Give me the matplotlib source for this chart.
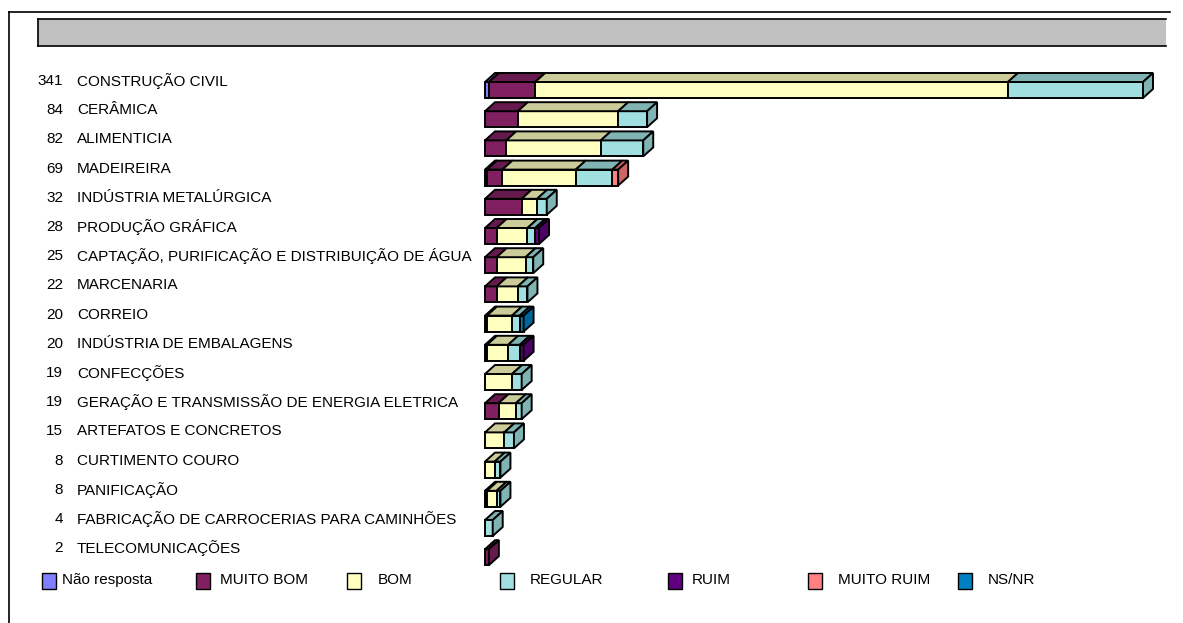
import numpy as np
import matplotlib
matplotlib.use("Agg")
import matplotlib.pyplot as plt
from matplotlib.patches import Polygon, Rectangle
from matplotlib.transforms import blended_transform_factory
from matplotlib.colors import to_rgb

plt.rcParams['font.family'] = ['Liberation Sans', 'DejaVu Sans']

categories = ['CONSTRUÇÃO CIVIL', 'CERÂMICA', 'ALIMENTICIA', 'MADEIREIRA',
              'INDÚSTRIA METALÚRGICA', 'PRODUÇÃO GRÁFICA',
              'CAPTAÇÃO, PURIFICAÇÃO E DISTRIBUIÇÃO DE ÁGUA', 'MARCENARIA',
              'CORREIO', 'INDÚSTRIA DE EMBALAGENS', 'CONFECÇÕES',
              'GERAÇÃO E TRANSMISSÃO DE ENERGIA ELETRICA',
              'ARTEFATOS E CONCRETOS', 'CURTIMENTO COURO', 'PANIFICAÇÃO',
              'FABRICAÇÃO DE CARROCERIAS PARA CAMINHÕES', 'TELECOMUNICAÇÕES']

series_names = ['Não resposta', 'MUITO BOM', 'BOM', 'REGULAR', 'RUIM',
                'MUITO RUIM', 'NS/NR']
nao_resposta = [2, 0, 0, 1, 0, 0, 0, 0, 0, 0, 0, 0, 0, 0, 0, 0, 0]
muito_bom = [24, 17, 11, 8, 19, 6, 6, 6, 1, 1, 0, 7, 0, 0, 1, 0, 2]
bom = [245, 52, 49, 38, 8, 16, 15, 11, 13, 11, 14, 9, 10, 5, 5, 0, 0]
regular = [70, 15, 22, 19, 5, 4, 4, 5, 4, 6, 5, 3, 5, 3, 2, 4, 0]
ruim = [0, 0, 0, 0, 0, 2, 0, 0, 0, 2, 0, 0, 0, 0, 0, 0, 0]
muito_ruim = [0, 0, 0, 3, 0, 0, 0, 0, 0, 0, 0, 0, 0, 0, 0, 0, 0]
ns_nr = [0, 0, 0, 0, 0, 0, 0, 0, 2, 0, 0, 0, 0, 0, 0, 0, 0]

colors = ['#8080FF', '#802060', '#FFFFC0', '#A0E0E0', '#600080',
          '#FF8080', '#0080C0']

values = np.array([nao_resposta, muito_bom, bom, regular, ruim,
                   muito_ruim, ns_nr], dtype=float)
totals = values.sum(axis=0)

W, H = 1183, 623
fig = plt.figure(figsize=(W / 100, H / 100), dpi=100)

# axes placed so bars start at ~485px and row spacing ~29px
x_left, x_right = 485, 1143
row0, step = 90, 29.2
top_px = row0 - step
bot_px = row0 + step * 17
ax = fig.add_axes([x_left / W, 1 - bot_px / H,
                   (x_right - x_left) / W, (bot_px - top_px) / H])
ax.set_xlim(0, totals.max())
ax.set_ylim(17, -1)
ax.axis('off')

px_per_unit = (x_right - x_left) / totals.max()
ddx = 10 / px_per_unit
ddy = 9 / step
h = 16 / step
lw = 1.4


def shade(c, f=0.8):
    r, g, b = to_rgb(c)
    return (r * f, g * f, b * f)


for i in range(len(categories)):
    left = 0.0
    last = None
    for s in range(len(series_names)):
        v = values[s, i]
        if v <= 0:
            continue
        x0, x1 = left, left + v
        yt, yb = i - h / 2, i + h / 2
        ax.add_patch(Polygon([(x0, yb), (x1, yb), (x1, yt), (x0, yt)],
                             closed=True, facecolor=colors[s],
                             edgecolor='black', lw=lw, clip_on=False))
        ax.add_patch(Polygon([(x0, yt), (x1, yt), (x1 + ddx, yt - ddy),
                              (x0 + ddx, yt - ddy)], closed=True,
                             facecolor=shade(colors[s]), edgecolor='black',
                             lw=lw, clip_on=False))
        left = x1
        last = s
    if last is not None:
        yt, yb = i - h / 2, i + h / 2
        ax.add_patch(Polygon([(left, yb), (left, yt), (left + ddx, yt - ddy),
                              (left + ddx, yb - ddy)], closed=True,
                             facecolor=shade(colors[last]), edgecolor='black',
                             lw=lw, clip_on=False))

# category labels
lab_tr = blended_transform_factory(fig.transFigure, ax.transData)
for i, name in enumerate(categories):
    y = i - 9 / step
    ax.text(63 / W, y, '%d' % totals[i], transform=lab_tr, ha='right',
            va='center', fontsize=11, color='black')
    ax.text(77 / W, y, name, transform=lab_tr, ha='left', va='center',
            fontsize=11, color='black')

# frame and grey title strip
fig.add_artist(plt.Line2D([9 / W, 1170 / W], [1 - 12 / H, 1 - 12 / H],
                          color='black', lw=1.2))
fig.add_artist(plt.Line2D([9 / W, 9 / W], [1 - 12 / H, 0],
                          color='black', lw=1.2))
fig.add_artist(Rectangle((38 / W, 1 - 46 / H), (1166 - 38) / W, 27 / H,
                         facecolor='#C0C0C0', edgecolor='none'))
fig.add_artist(plt.Line2D([38 / W, 1166 / W], [1 - 19 / H, 1 - 19 / H],
                          color='black', lw=1.2))
fig.add_artist(plt.Line2D([38 / W, 1166 / W], [1 - 46 / H, 1 - 46 / H],
                          color='black', lw=1.2))
fig.add_artist(plt.Line2D([38 / W, 38 / W], [1 - 19 / H, 1 - 46 / H],
                          color='black', lw=1.2))

# legend
sq_x = [42, 196, 347, 500, 668, 808, 958]
tx_x = [62, 220, 378, 530, 692, 838, 988]
for s, name in enumerate(series_names):
    fig.add_artist(Rectangle((sq_x[s] / W, 1 - 589 / H), 14 / W, 16 / H,
                             facecolor=colors[s], edgecolor='black', lw=1.0))
    fig.text(tx_x[s] / W, 1 - 580 / H, name, ha='left', va='center',
             fontsize=11, color='black')

fig.savefig('out.png', dpi=100)
